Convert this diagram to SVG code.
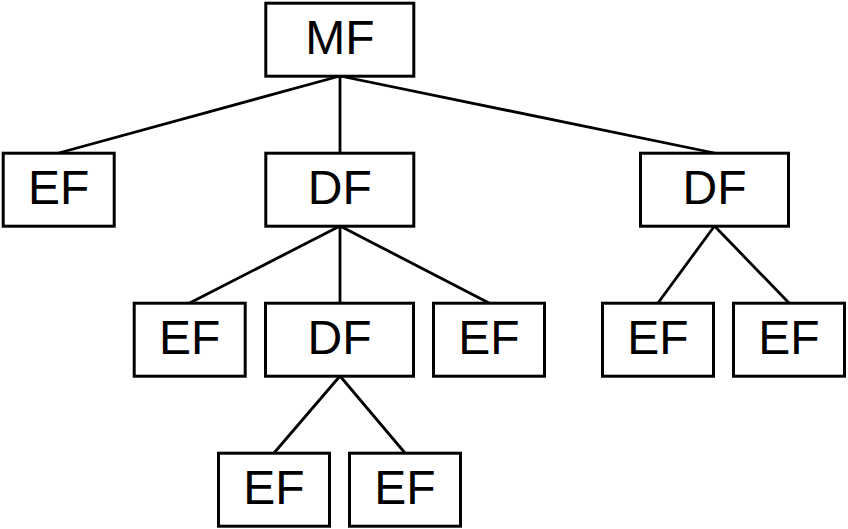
<svg xmlns="http://www.w3.org/2000/svg" width="848" height="529" viewBox="0 0 848 529">
<style>
.box{fill:#fff;stroke:#000;stroke-width:3}
.lbl{font-family:"Liberation Sans",Arial,sans-serif;font-size:48px;fill:#000;text-anchor:middle}
.edge{stroke:#000;stroke-width:2.8;fill:none}
</style>
<rect width="848" height="529" fill="#fff"/>
<g id="connectors">
<line class="edge" x1="340" y1="76" x2="58.7" y2="153"/>
<line class="edge" x1="340" y1="76" x2="340" y2="153"/>
<line class="edge" x1="340" y1="76" x2="714.5" y2="153"/>
<line class="edge" x1="340" y1="226" x2="189.7" y2="303"/>
<line class="edge" x1="340" y1="226" x2="340" y2="303"/>
<line class="edge" x1="340" y1="226" x2="489" y2="303"/>
<line class="edge" x1="714.5" y1="226" x2="658" y2="303"/>
<line class="edge" x1="714.5" y1="226" x2="789" y2="303"/>
<line class="edge" x1="340" y1="376" x2="274" y2="453"/>
<line class="edge" x1="340" y1="376" x2="405" y2="453"/>
</g>
<g id="mf"><rect class="box" x="265.8" y="3.2" width="148" height="73"/><text class="lbl" x="339.8" y="54">MF</text></g>
<g id="ef1"><rect class="box" x="3.2" y="153.2" width="111" height="73"/><text class="lbl" x="58.7" y="204">EF</text></g>
<g id="df1"><rect class="box" x="265.8" y="153.2" width="148" height="73"/><text class="lbl" x="339.8" y="204">DF</text></g>
<g id="df2"><rect class="box" x="640.5" y="153.2" width="148" height="73"/><text class="lbl" x="714.5" y="204">DF</text></g>
<g id="ef2"><rect class="box" x="134.2" y="303.2" width="111" height="73"/><text class="lbl" x="189.7" y="354">EF</text></g>
<g id="df3"><rect class="box" x="265.5" y="303.2" width="148" height="73"/><text class="lbl" x="339.5" y="354">DF</text></g>
<g id="ef3"><rect class="box" x="433.5" y="303.2" width="111" height="73"/><text class="lbl" x="489" y="354">EF</text></g>
<g id="ef4"><rect class="box" x="602.5" y="303.2" width="111" height="73"/><text class="lbl" x="658" y="354">EF</text></g>
<g id="ef5"><rect class="box" x="733.5" y="303.2" width="111" height="73"/><text class="lbl" x="789" y="354">EF</text></g>
<g id="ef6"><rect class="box" x="218.5" y="453.2" width="111" height="73"/><text class="lbl" x="274" y="504">EF</text></g>
<g id="ef7"><rect class="box" x="349.5" y="453.2" width="111" height="73"/><text class="lbl" x="405" y="504">EF</text></g>
</svg>
